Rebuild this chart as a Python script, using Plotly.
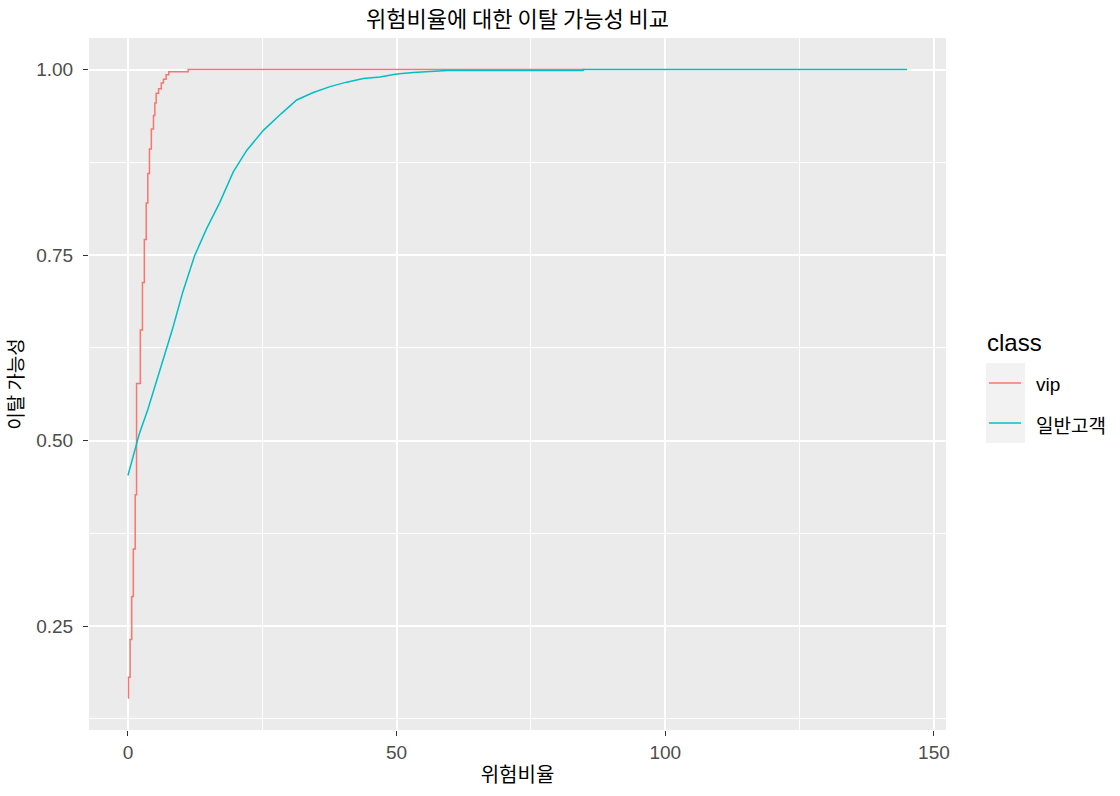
import plotly.graph_objects as go

# ---- data ----
vip_x = [0, 0.1, 0.4, 0.7, 1.0, 1.35, 1.6, 2.3, 2.7, 3.05, 3.4, 3.7, 4.0, 4.35,
         4.75, 5.0, 5.25, 5.7, 6.2, 6.6, 7.1, 7.6, 11.2, 85]
vip_y = [0.153, 0.181, 0.232, 0.290, 0.354, 0.427, 0.577, 0.649, 0.713, 0.771,
         0.820, 0.860, 0.893, 0.920, 0.938, 0.955, 0.968, 0.974, 0.982, 0.987,
         0.993, 0.997, 1.0, 1.0]

gen_x = [0, 2.15, 3.7, 5.3, 6.8, 8.4, 10.2, 12.4, 14.6, 17.1, 19.6, 22.1, 25.2,
         28.6, 31.4, 34.5, 37.6, 40.7, 43.8, 46.9, 50.0, 53.1, 59.4, 84.7, 84.8, 145]
gen_y = [0.453, 0.510, 0.542, 0.578, 0.615, 0.653, 0.700, 0.749, 0.785, 0.821,
         0.862, 0.891, 0.918, 0.941, 0.959, 0.969, 0.977, 0.983, 0.988, 0.990,
         0.994, 0.996, 0.9986, 0.9986, 1.0, 1.0]

series_names = ["vip", "일반고객"]
series_colors = ["#F8766D", "#00BFC4"]
x_ticks = [0, 50, 100, 150]
x_minor = [25, 75, 125]
y_ticks = [0.25, 0.50, 0.75, 1.00]
y_tick_labels = ["0.25", "0.50", "0.75", "1.00"]
y_minor = [0.125, 0.375, 0.625, 0.875]

title_text = "위험비율에 대한 이탈 가능성 비교"
x_title = "위험비율"
y_title = "이탈 가능성"
legend_title = "class"

W, H = 1120, 796
ML, MT = 89, 38
MR = W - 946
MB = H - 730
PW, PH = W - ML - MR, H - MT - MB


def px_x(px):  # page pixel -> paper x
    return (px - ML) / PW


def px_y(py):  # page pixel -> paper y
    return (H - MB - py) / PH


KR = "Noto Sans CJK KR"
LAT = "Liberation Sans, Arial"

fig = go.Figure()
fig.add_trace(go.Scatter(x=vip_x, y=vip_y, mode="lines", name=series_names[0],
                         line=dict(color=series_colors[0], width=1.5, shape="hv"),
                         showlegend=False))
fig.add_trace(go.Scatter(x=gen_x, y=gen_y, mode="lines", name=series_names[1],
                         line=dict(color=series_colors[1], width=1.5),
                         showlegend=False))

fig.update_layout(
    width=W, height=H,
    margin=dict(l=ML, r=MR, t=MT, b=MB),
    paper_bgcolor="white", plot_bgcolor="#EBEBEB",
    title=dict(text=title_text, x=517.5 / W, xanchor="center",
               xref="container", y=1 - 19 / H, yref="container", yanchor="middle",
               font=dict(family=KR, size=22, color="black")),
    xaxis=dict(range=[-7.25, 152.25], tickvals=x_ticks, ticks="outside", ticklen=5,
               tickcolor="#333333", tickwidth=1, automargin=False,
               tickfont=dict(family=LAT, size=19, color="#4D4D4D"),
               showgrid=True, gridcolor="white", gridwidth=2,
               minor=dict(tickvals=x_minor, showgrid=True, gridcolor="white", gridwidth=1, ticks=""),
               zeroline=False, showline=False,
               title=dict(text=x_title, font=dict(family=KR, size=20, color="black"), standoff=6)),
    yaxis=dict(range=[0.110, 1.0425], tickvals=y_ticks, ticktext=y_tick_labels,
               ticks="outside", ticklen=5, tickcolor="#333333", tickwidth=1, automargin=False,
               ticklabelstandoff=6,
               tickfont=dict(family=LAT, size=19, color="#4D4D4D"),
               showgrid=True, gridcolor="white", gridwidth=2,
               minor=dict(tickvals=y_minor, showgrid=True, gridcolor="white", gridwidth=1, ticks=""),
               zeroline=False, showline=False,
               title=dict(text=y_title, font=dict(family=KR, size=19, color="black"), standoff=7)),
)

# ---- legend drawn in ggplot style ----
shapes = []
annotations = []
annotations.append(dict(text=legend_title, x=px_x(985), y=px_y(342), xref="paper", yref="paper",
                        xanchor="left", yanchor="middle", showarrow=False,
                        font=dict(family=LAT, size=24, color="black")))
for i, (name, col) in enumerate(zip(series_names, series_colors)):
    top = 363 + 40 * i
    shapes.append(dict(type="rect", xref="paper", yref="paper",
                       x0=px_x(986), x1=px_x(1025), y0=px_y(top + 40), y1=px_y(top),
                       fillcolor="#F2F2F2", line=dict(width=0), layer="below"))
    shapes.append(dict(type="line", xref="paper", yref="paper",
                       x0=px_x(989), x1=px_x(1021), y0=px_y(top + 20), y1=px_y(top + 20),
                       line=dict(color=col, width=1.5)))
    annotations.append(dict(text=name, x=px_x(1034), y=px_y(top + 21), xref="paper", yref="paper",
                            xanchor="left", yanchor="middle", showarrow=False,
                            font=dict(family=KR if i == 1 else LAT, size=19, color="black")))
fig.update_layout(shapes=shapes, annotations=annotations)

fig.write_html("out.html", config={"displayModeBar": False},
               post_script="document.body.style.margin='0';")
